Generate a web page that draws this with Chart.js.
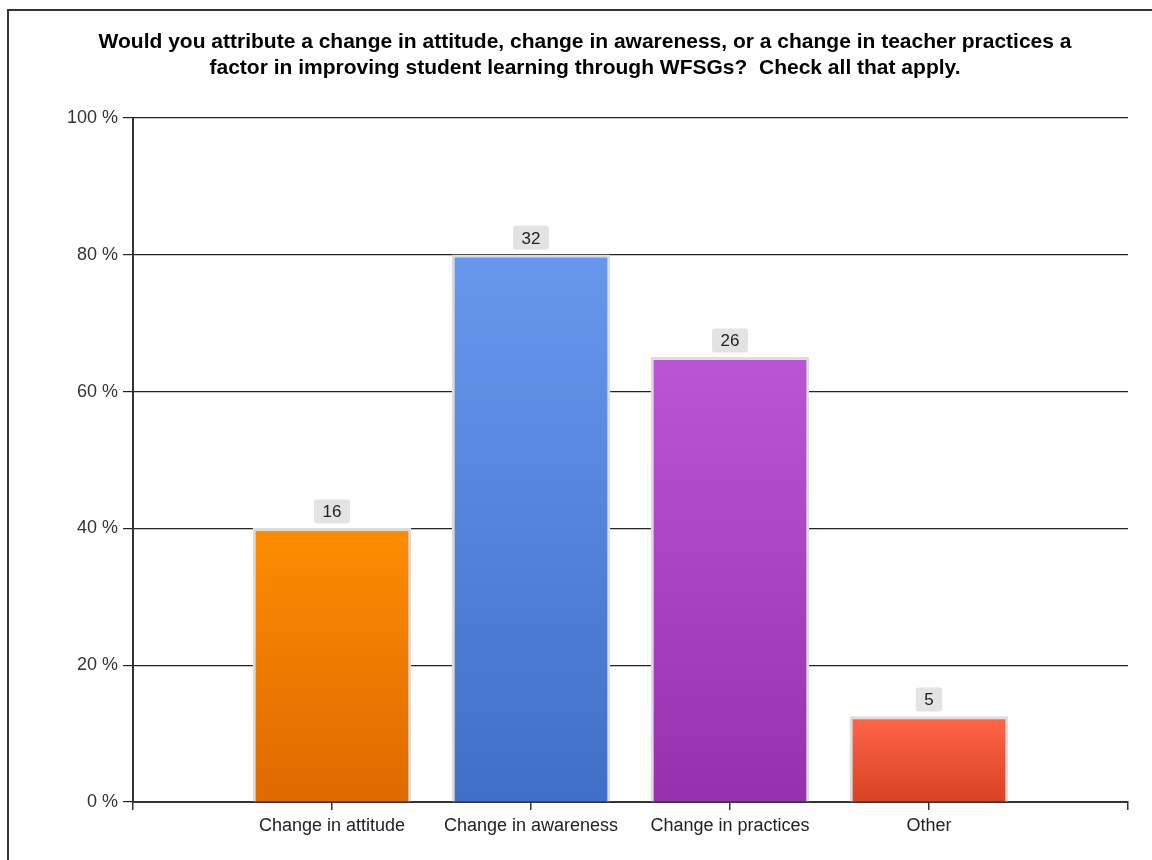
<!DOCTYPE html>
<html>
<head>
<meta charset="utf-8">
<script src="https://cdn.jsdelivr.net/npm/chart.js@4"></script>
<style>
  html, body { margin:0; padding:0; background:#fff; overflow:hidden; }
  #frame { position:absolute; left:7px; top:9px; width:1200px; height:900px; border:2px solid #333; }
  #wrap { position:absolute; left:0; top:0; width:1152px; height:860px; }
</style>
</head>
<body>
<div id="frame"></div>
<div id="wrap"><canvas id="chart"></canvas></div>
<script>
/* ── data ── */
var categories = ['Change in attitude', 'Change in awareness', 'Change in practices', 'Other'];
var counts = [16, 32, 26, 5];
var percents = [40, 80, 65, 12.5];
var yTicks = [0, 20, 40, 60, 80, 100];
var titleLines = [
  'Would you attribute a change in attitude, change in awareness, or a change in teacher practices a',
  'factor in improving student learning through WFSGs?  Check all that apply.'
];

// bar gradient stops (top, bottom)
var barTops    = ['#ff8c00', '#6798ee', '#ba56d6', '#ff6549'];
var barBottoms = ['#dc6a00', '#3f6fc6', '#9531ad', '#d94224'];

// one empty slot before and after, like the original axis
var labels = [''].concat(categories, ['']);
var values = [null].concat(percents, [null]);
var countLabels = [null].concat(counts, [null]);

var FONT = '"Liberation Sans", Arial, sans-serif';

function barFill(ctx){
  var chart = ctx.chart;
  var i = ctx.dataIndex - 1;
  if(!chart.chartArea || i < 0 || i >= barTops.length) return '#ccc';
  var y = chart.scales.y;
  var top = y.getPixelForValue(ctx.raw || 0);
  var bot = y.getPixelForValue(0);
  if(bot - top < 1) return barTops[i];
  var g = chart.ctx.createLinearGradient(0, top, 0, bot);
  g.addColorStop(0, barTops[i]);
  g.addColorStop(1, barBottoms[i]);
  return g;
}

/* ── count boxes above bars ── */
var countBoxes = {
  id: 'countBoxes',
  afterDatasetsDraw: function(chart){
    var c = chart.ctx;
    var meta = chart.getDatasetMeta(0);
    c.save();
    c.font = '17px ' + FONT;
    c.textAlign = 'center';
    c.textBaseline = 'middle';
    meta.data.forEach(function(bar, i){
      var n = countLabels[i];
      if(n == null) return;
      var txt = String(n);
      var w = c.measureText(txt).width + 17;
      var h = 24;
      var x = bar.x - w / 2;
      var yb = bar.y - 5;
      c.fillStyle = '#e3e3e3';
      c.beginPath();
      c.roundRect(x, yb - h, w, h, 3);
      c.fill();
      c.fillStyle = '#222';
      c.fillText(txt, bar.x, yb - h / 2 + 1);
    });
    c.restore();
  }
};

var ctx = document.getElementById('chart').getContext('2d');
new Chart(ctx, {
  type: 'bar',
  data: {
    labels: labels,
    datasets: [{
      data: values,
      backgroundColor: barFill,
      borderColor: '#dcdcdc',
      borderWidth: 3,
      borderSkipped: 'bottom',
      barThickness: 158
    }]
  },
  options: {
    responsive: true,
    maintainAspectRatio: false,
    animation: false,
    layout: { padding: { left: 42, right: 24, top: 0, bottom: 0 } },
    plugins: {
      legend: { display: false },
      tooltip: { enabled: false },
      title: {
        display: true,
        text: titleLines,
        color: '#000',
        font: { family: FONT, size: 21, weight: 'bold', lineHeight: 1.24 },
        padding: { top: 29, bottom: 37 }
      }
    },
    scales: {
      x: {
        offset: false,
        grid: { display: true, offset: false, drawOnChartArea: false, drawTicks: true, tickLength: 8, color: '#333', lineWidth: 1.5 },
        border: { display: true, color: '#333', width: 2 },
        ticks: { color: '#222', font: { family: FONT, size: 18 }, padding: 5, maxRotation: 0, autoSkip: false },
        afterFit: function(s){ s.height = 58; }
      },
      y: {
        min: 0,
        max: 100,
        afterBuildTicks: function(s){ s.ticks = yTicks.map(function(v){ return {value: v}; }); },
        grid: { color: '#222', lineWidth: 1.2, tickLength: 10 },
        border: { display: true, color: '#333', width: 2 },
        ticks: {
          color: '#333',
          font: { family: FONT, size: 18 },
          padding: 5,
          callback: function(v){ return v + ' %'; }
        },
        afterFit: function(s){ s.width = 91; }
      }
    }
  },
  plugins: [countBoxes]
});
</script>
</body>
</html>
